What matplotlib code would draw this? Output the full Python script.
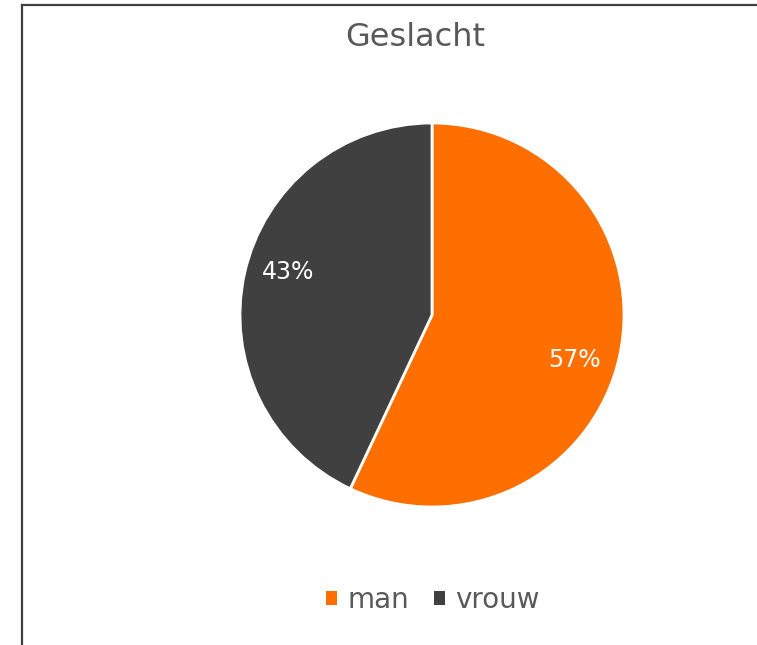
import matplotlib
matplotlib.use("Agg")
import matplotlib.pyplot as plt
import numpy as np
from matplotlib.patches import Patch
from matplotlib.lines import Line2D

# data
labels = ["man", "vrouw"]
shares = [57, 43]
colors = ["#FF6F00", "#404040"]
title = "Geslacht"

W, H = 757, 645
plt.rcParams['font.family'] = ['DejaVu Sans']

fig = plt.figure(figsize=(W / 100, H / 100), dpi=100)
fig.patch.set_facecolor("white")

cx, cy, r = 432, H - 315, 192
ax = fig.add_axes([0, 0, 1, 1])
wedges, texts, autotexts = ax.pie(
    shares, colors=colors, startangle=90, counterclock=False,
    center=(cx, cy), radius=r, frame=True,
    autopct="%d%%", pctdistance=0.77,
    wedgeprops=dict(edgecolor="white", linewidth=2),
    textprops=dict(color="white", fontsize=17),
)
# Excel puts the labels slightly off the wedge mid-angle
for t, nudge in zip(autotexts, [-5, -4]):
    x, y = t.get_position()
    ang = np.arctan2(y - cy, x - cx) + np.radians(nudge)
    d = 0.78 * r
    t.set_position((cx + d * np.cos(ang), cy + d * np.sin(ang)))

ax.set_xlim(0, W)
ax.set_ylim(0, H)
ax.set_aspect("equal")
ax.axis("off")

fig.text(415 / W, 1 - 38 / H, title, ha="center", va="center",
         fontsize=23, color="#595959")

handles = [Patch(facecolor=c, edgecolor="none") for c in colors]
fig.legend(handles, labels, loc="center", bbox_to_anchor=(433 / W, 1 - 600 / H),
           ncol=2, frameon=False, fontsize=20, labelcolor="#595959",
           handlelength=0.4, handleheight=0.4, handletextpad=0.36,
           columnspacing=0.9)

# chart border (cropped on right and bottom)
fig.add_artist(Line2D([21.5 / W, 21.5 / W], [0, 1 - 5 / H], color="#404040",
                      linewidth=1.6, transform=fig.transFigure))
fig.add_artist(Line2D([21.5 / W, 1], [1 - 5 / H, 1 - 5 / H], color="#404040",
                      linewidth=1.6, transform=fig.transFigure))

fig.savefig("out.png", dpi=100)
